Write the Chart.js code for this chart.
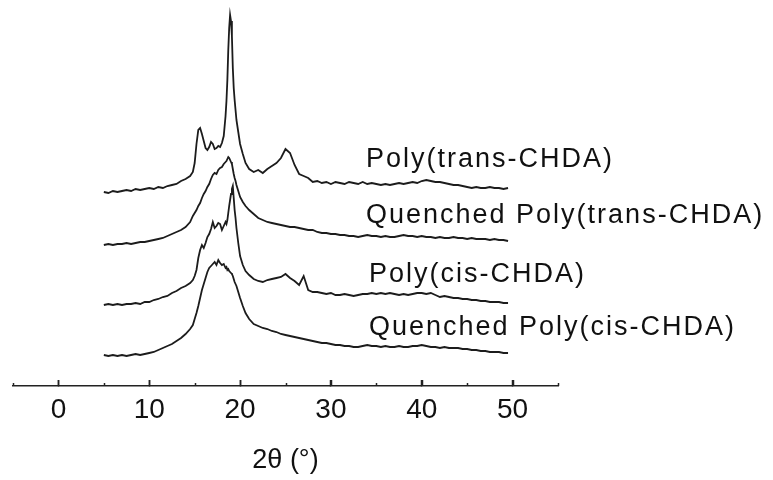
<!DOCTYPE html>
<html>
<head>
<meta charset="utf-8">
<script src="https://cdn.jsdelivr.net/npm/chart.js@4.4.1/dist/chart.umd.min.js"></script>
<style>
html,body{margin:0;padding:0;background:#fff;}
#wrap{width:773px;height:480px;}
</style>
</head>
<body>
<div id="wrap"><canvas id="c" width="773" height="480"></canvas></div>
<script>
// 2-theta sampling grid (degrees)
const angles = [
 5.0,5.5,6.0,6.5,7.0,7.5,8.0,8.5,9.0,9.5,10.0,10.5,11.0,11.5,12.0,12.5,13.0,13.5,14.0,14.5,
 14.8,15.0,15.2,15.4,15.6,15.8,16.0,16.2,16.4,16.6,16.8,17.0,17.2,17.4,17.6,17.8,18.0,18.2,18.4,18.5,
 18.6,18.7,18.8,18.9,19.0,19.1,19.2,19.3,19.4,19.5,19.6,19.8,20.0,20.3,20.6,
 21.0,21.5,22.0,22.5,23.0,23.5,24.0,24.5,25.0,25.5,26.0,26.5,27.0,27.5,28.0,28.5,29.0,29.5,
 30.0,30.5,31.0,31.5,32.0,32.5,33.0,33.5,34.0,34.5,35.0,35.5,36.0,36.5,37.0,37.5,38.0,38.5,39.0,39.5,
 40.0,40.5,41.0,41.5,42.0,42.5,43.0,43.5,44.0,44.5,45.0,45.5,46.0,46.5,47.0,47.5,48.0,48.5,49.0,49.5
];

const seriesNames = ["Poly(trans-CHDA)", "Quenched Poly(trans-CHDA)", "Poly(cis-CHDA)", "Quenched Poly(cis-CHDA)"];

// intensities (arbitrary units)
const polyTrans = [
 4,3,5,4,5,6,5,7,6,7,8,7,9,8,10,11,12,15,17,20,
 24,33,52,66,68,62,55,48,46,49,54,52,47,48,50,49,53,60,80,95,
 116,146,168,181,175,160,128,108,96,86,76,64,52,42,33,
 27,24,26,23,27,30,33,38,47,43,31,22,20,18,14,15,13,14,
 12,14,13,12,14,13,12,14,12,13,12,11,12,11,12,13,12,13,14,13,
 15,16,15,14,14,13,12,11,11,10,9,8,9,8,8,9,8,8,7,8
];
const quenchedTrans = [
 1,2,1,2,2,3,2,3,4,4,5,6,7,8,10,12,14,16,19,24,
 30,33,36,40,43,48,52,55,59,62,67,71,73,72,76,78,79,82,84,85,
 87,89,88,86,84,82,77,72,68,65,61,55,49,44,40,
 36,32,28,26,24,23,22,21,20,19,19,18,17,16,16,14,13,13,
 12,12,11,11,10,10,9,10,11,10,10,9,10,9,9,10,11,10,10,9,
 10,9,9,8,9,8,8,9,8,8,7,8,7,7,7,6,7,6,6,5
];
const polyCis = [
 1,2,1,2,1,2,2,3,2,4,4,6,7,9,10,13,15,18,20,23,
 26,30,36,48,56,61,58,63,69,72,77,84,78,80,83,82,76,80,84,82,
 86,93,100,106,112,117,120,108,96,88,78,63,50,41,35,
 31,27,25,24,26,27,28,29,32,28,25,21,30,16,14,14,13,12,
 13,11,11,12,11,10,11,12,12,13,12,13,12,13,12,11,12,11,12,13,
 13,12,13,11,9,10,9,8,8,7,7,6,6,5,5,4,4,4,3,3
];
const quenchedCis = [
 1,0,1,0,1,0,1,2,1,2,3,4,6,8,10,12,15,18,22,27,
 31,37,43,50,58,66,72,78,84,88,90,92,94,91,96,93,91,92,88,89,
 86,87,85,84,83,82,80,77,74,72,70,64,58,50,43,
 37,32,30,28,27,25,24,22,21,20,19,18,17,16,15,14,13,13,
 12,11,11,10,10,9,9,10,11,10,10,9,10,9,9,10,9,9,10,10,
 11,10,9,9,8,9,8,8,8,7,7,6,6,5,5,4,4,4,3,3
];
// vertical stacking offsets for each pattern
const offsets = [190, 140, 80, 30];

const xTickValues = [0, 10, 20, 30, 40, 50];
const xMinorTicks = [-5, 5, 15, 25, 35, 45, 55];

const allSeries = [polyTrans, quenchedTrans, polyCis, quenchedCis];
const datasets = allSeries.map((s, i) => ({
  label: seriesNames[i],
  data: s.map((v, k) => ({x: angles[k], y: v + offsets[i]})),
  borderColor: '#1c1c1c',
  borderWidth: 1.8,
  pointRadius: 0,
  tension: 0,
  fill: false
}));

const labelPos = [
  {x: 366, y: 167}, {x: 366, y: 223}, {x: 369, y: 282}, {x: 369, y: 335}
];

function drawTicks(ctx, xs, values, len) {
  values.forEach(v => {
    const px = Math.round(xs.getPixelForValue(v)) + 0.5;
    ctx.beginPath();
    ctx.moveTo(px, xs.top);
    ctx.lineTo(px, xs.top - len);
    ctx.stroke();
  });
}

const decor = {
  id: 'decor',
  afterDraw(chart) {
    const ctx = chart.ctx;
    const xs = chart.scales.x;
    ctx.save();
    ctx.strokeStyle = '#222';
    ctx.lineWidth = 1.5;
    drawTicks(ctx, xs, xMinorTicks, 3);
    drawTicks(ctx, xs, xTickValues, 6);
    ctx.fillStyle = '#111';
    ctx.font = '27px "Liberation Sans", Arial, sans-serif';
    ctx.letterSpacing = '2px';
    ctx.textBaseline = 'alphabetic';
    ctx.textAlign = 'left';
    seriesNames.forEach((n, i) => ctx.fillText(n, labelPos[i].x, labelPos[i].y));
    ctx.restore();
    ctx.letterSpacing = '0px';
  }
};

new Chart(document.getElementById('c'), {
  type: 'line',
  data: { datasets },
  plugins: [decor],
  options: {
    responsive: false,
    animation: false,
    layout: { padding: { left: 13, right: 215, top: 0, bottom: 0 } },
    plugins: { legend: { display: false }, tooltip: { enabled: false } },
    scales: {
      x: {
        type: 'linear',
        min: -5, max: 55,
        afterBuildTicks(scale) { scale.ticks = xTickValues.map(v => ({value: v})); },
        afterFit(scale) { scale.height = 94; },
        border: { display: true, color: '#222', width: 1.5 },
        grid: { drawOnChartArea: false, drawTicks: true, tickLength: -6, tickColor: '#222', tickWidth: 1.5 },
        ticks: {
          padding: 13,
          color: '#111',
          maxRotation: 0,
          autoSkip: false,
          font: { family: '"Liberation Sans", Arial, sans-serif', size: 28 },
          callback: v => String(v)
        },
        title: {
          display: true,
          text: '2θ (°)',
          color: '#111',
          font: { family: '"Liberation Sans", Arial, sans-serif', size: 27 },
          padding: { top: 0, bottom: 3 }
        }
      },
      y: { display: false, min: 0, max: 386 }
    }
  }
});
</script>
</body>
</html>
